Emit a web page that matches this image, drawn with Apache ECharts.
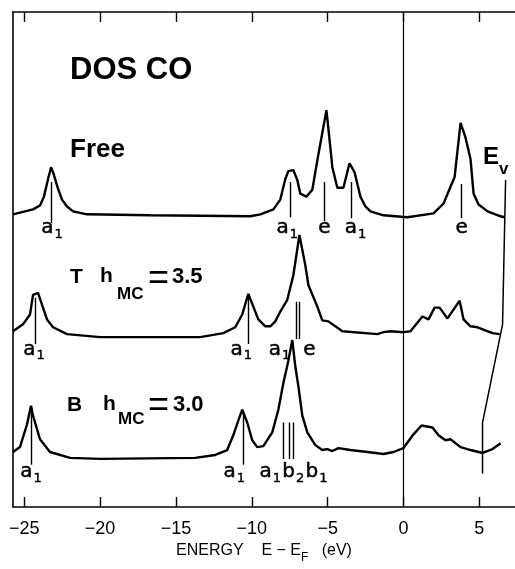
<!DOCTYPE html>
<html><head><meta charset="utf-8">
<script src="https://cdn.jsdelivr.net/npm/echarts@6/dist/echarts.min.js"></script>
<style>html,body{margin:0;padding:0;background:#fff}#c{width:515px;height:569px}</style>
</head><body><div id="c"></div>
<script>
// Energies (eV, E - E_F) and offset DOS values (arbitrary units, curves stacked)
const freeE = [-25.74,-24.42,-23.96,-23.70,-23.43,-23.23,-23.04,-22.77,-22.51,-22.18,-21.78,-20.86,-16.70,-10.10,-9.44,-8.58,-8.12,-7.79,-7.59,-7.26,-7.00,-6.80,-6.40,-6.01,-5.61,-5.08,-4.82,-4.69,-4.36,-3.96,-3.56,-3.23,-2.84,-2.51,-2.18,-1.32,0.26,1.98,2.64,3.10,3.37,3.76,4.09,4.42,4.62,4.95,5.54,6.40,6.67];
const freeD = [298,303,307,316,334,346,338,324,313,306,301,298,297,296,298,303,313,334,342,343,333,319,316,323,359,404,366,346,325,325,350,341,316,306,301,297,295,299,309,326,336,391,376,354,319,308,301,296,295];

const topE = [-25.74,-25.08,-24.62,-24.42,-24.09,-23.83,-23.50,-23.10,-22.18,-20.00,-13.40,-11.88,-11.09,-10.63,-10.23,-9.90,-9.57,-9.11,-8.78,-8.45,-8.12,-7.66,-7.26,-6.86,-6.47,-6.27,-5.68,-5.35,-4.95,-4.03,-1.72,-1.32,-0.86,0.00,0.46,1.25,1.65,2.05,2.38,2.90,3.70,3.96,4.42,4.88,5.87,6.34];
const topD = [179,186,196,216,218,206,191,183,176,173,173,177,183,196,217,204,191,184,184,189,199,211,236,277,246,226,204,190,189,179,176,178,179,178,179,194,191,203,203,192,210,191,184,183,177,176];

const bridgeE = [-25.74,-25.28,-24.82,-24.55,-24.42,-23.96,-23.30,-21.98,-20.00,-13.73,-12.41,-11.62,-11.22,-10.89,-10.63,-10.30,-9.97,-9.64,-9.24,-8.65,-8.25,-7.92,-7.59,-7.33,-7.13,-6.93,-6.67,-6.34,-5.81,-5.35,-5.02,-4.69,-4.29,-3.50,-2.38,-1.32,-0.66,0.00,0.66,1.19,1.91,2.31,2.77,3.10,3.76,4.42,5.21,5.87,6.40];
const bridgeD = [56,61,84,103,93,69,56,50,49,50,53,58,73,88,99,86,68,61,62,76,99,126,149,170,143,123,93,76,63,58,59,57,60,58,56,54,56,60,74,83,81,73,68,69,61,58,55,59,65];

// Vacuum level line and Fermi level line
const evE = [6.73, 6.53, 5.21, 5.21];
const evD = [333, 186, 86, 34];
const zeroE = [0, 0];
const zeroD = [0, 504];

// Orbital marker bars
const freeMarkE = [-23.23, -7.46, -5.21, -3.43, 3.83];
const freeMarkTop = [331, 331, 331, 331, 329];
const freeMarkBot = [289, 295, 291, 294, 294];
const topMarkE = [-24.29, -10.23, -7.06, -6.86];
const topMarkTop = [213, 216, 209, 209];
const topMarkBot = [166, 166, 171, 171];
const bridgeMarkE = [-24.55, -10.56, -7.92, -7.53, -7.26];
const bridgeMarkTop = [96, 96, 86, 86, 86];
const bridgeMarkBot = [43, 43, 49, 49, 49];

// Orbital labels: [letter, subscript]
const freeLabE = [-23.17, -7.66, -5.21, -3.17, 3.83];
const freeLabT = [['a','1'], ['a','1'], ['e',''], ['a','1'], ['e','']];
const freeLabY = 284;
const topLabE = [-24.36, -10.69, -8.18, -6.20];
const topLabT = [['a','1'], ['a','1'], ['a','1'], ['e','']];
const topLabY = 160.5;
const bridgeLabE = [-24.55, -11.16, -8.78, -7.26, -5.74];
const bridgeLabT = [['a','1'], ['a','1'], ['a','1'], ['b','2'], ['b','1']];
const bridgeLabY = 36;

const tickVals = [-25, -20, -15, -10, -5, 0, 5];

const pair = (xs, ys) => xs.map((x, i) => [x, ys[i]]);
const segs = (xs, t, b) => xs.map((x, i) => ({coords: [[x, t[i]], [x, b[i]]]}));
const labs = (xs, txt, y) => xs.map((x, i) => ({value: [x, y], name: txt[i][1] ? '{m|' + txt[i][0] + '}{s|' + txt[i][1] + '}' : '{m|' + txt[i][0] + '}'}));

const FONT = '"Liberation Sans", Arial, sans-serif';
const LFONT = '"DejaVu Sans", sans-serif';
const curveStyle = {color: '#000', width: 2.4};

function curve(data) {
  return {type: 'line', data, symbol: 'none', lineStyle: curveStyle, silent: true, z: 3};
}
function labelSeries(data) {
  return {type: 'scatter', data, symbolSize: 1, itemStyle: {color: 'rgba(0,0,0,0)', opacity: 1}, silent: true,
    label: {show: true, position: 'inside', formatter: '{b}', color: '#000', opacity: 1,
      rich: {
        m: {fontSize: 20, fontFamily: LFONT, color: '#000', lineHeight: 20, verticalAlign: 'top', textBorderColor: '#000', textBorderWidth: 0.5},
        s: {fontSize: 13, fontFamily: LFONT, color: '#000', lineHeight: 13, padding: [10, 0, 0, 1], verticalAlign: 'top', textBorderColor: '#000', textBorderWidth: 0.4}
      }}};
}

const chart = echarts.init(document.getElementById('c'), null, {renderer: 'canvas'});
const axisLine = {show: true, onZero: false, lineStyle: {color: '#000', width: 1.6}};
const fmt = v => String(v).replace('-', '−');

function txt(text, x, y, size, align, weight) {
  return {type: 'text', x, y, silent: true, style: {
    text, font: (weight || 'bold') + ' ' + size + 'px ' + FONT, fill: '#000',
    align: align || 'left', verticalAlign: 'middle',
    textAlign: align || 'left', textVerticalAlign: 'middle'}};
}

chart.setOption({
  animation: false,
  backgroundColor: '#fff',
  grid: {left: 13, right: 0, top: 12, bottom: 53, containLabel: false},
  xAxis: [{
    type: 'value', min: -25.74, max: 7.35, position: 'bottom',
    axisLine,
    axisTick: {show: true, inside: true, length: 10, customValues: tickVals, lineStyle: {color: '#000', width: 1.4}},
    axisLabel: {show: true, customValues: tickVals, formatter: fmt, color: '#000', fontSize: 18, fontFamily: FONT, margin: 13},
    splitLine: {show: false},
    name: '{t|ENERGY    E − E}{s|F}{t|   (eV)}',
    nameLocation: 'middle', nameGap: 36,
    nameTextStyle: {rich: {
      t: {fontSize: 16, fontFamily: FONT, color: '#000', lineHeight: 18, verticalAlign: 'top'},
      s: {fontSize: 12, fontFamily: FONT, color: '#000', lineHeight: 12, padding: [9, 0, 0, 0], verticalAlign: 'top'}
    }}
  }, {
    type: 'value', min: -25.74, max: 7.35, position: 'top',
    axisLine,
    axisTick: {show: true, inside: true, length: 10, customValues: tickVals, lineStyle: {color: '#000', width: 1.4}},
    axisLabel: {show: false},
    splitLine: {show: false}
  }],
  yAxis: {
    type: 'value', min: 0, max: 504,
    axisLine, axisTick: {show: false}, axisLabel: {show: false}, splitLine: {show: false}
  },
  series: [
    curve(pair(freeE, freeD)),
    curve(pair(topE, topD)),
    curve(pair(bridgeE, bridgeD)),
    {type: 'line', data: pair(evE, evD), symbol: 'none', lineStyle: {color: '#000', width: 1.5}, silent: true},
    {type: 'line', data: pair(zeroE, zeroD), symbol: 'none', lineStyle: {color: '#000', width: 1.2}, silent: true},
    {type: 'lines', coordinateSystem: 'cartesian2d', polyline: false, silent: true,
      data: segs(freeMarkE, freeMarkTop, freeMarkBot)
        .concat(segs(topMarkE, topMarkTop, topMarkBot))
        .concat(segs(bridgeMarkE, bridgeMarkTop, bridgeMarkBot)),
      lineStyle: {color: '#000', width: 1.4, opacity: 1}},
    labelSeries(labs(freeLabE, freeLabT, freeLabY)),
    labelSeries(labs(topLabE, topLabT, topLabY)),
    labelSeries(labs(bridgeLabE, bridgeLabT, bridgeLabY))
  ],
  graphic: [
    txt('DOS CO', 70, 70, 31),
    txt('Free', 70, 150, 26),
    txt('T', 70, 277, 21),
    txt('h', 100, 276, 21),
    txt('MC', 117, 294, 17),
    txt('=', 158.5, 279, 36, 'center', 'normal'),
    txt('3.5', 172, 277, 22),
    txt('B', 67, 405, 21),
    txt('h', 103, 404, 21),
    txt('MC', 118, 419, 17),
    txt('=', 158.5, 406, 36, 'center', 'normal'),
    txt('3.0', 173, 405, 22),
    txt('E', 483, 157, 24),
    txt('v', 499, 169, 17)
  ]
});
</script>
</body></html>
